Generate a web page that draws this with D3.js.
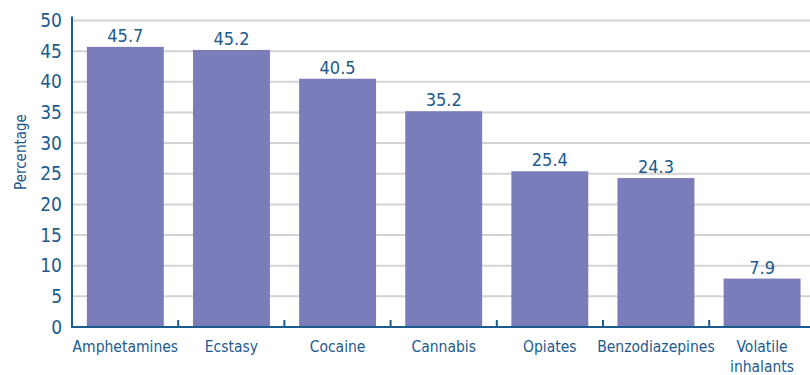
<!DOCTYPE html>
<html>
<head>
<meta charset="utf-8">
<script src="https://cdn.jsdelivr.net/npm/d3@7"></script>
<style>
body { margin: 0; background: #fff; }
text { font-family: "Liberation Sans Narrow", "DejaVu Sans Condensed", "Roboto Condensed", sans-serif; fill: #1d5a8e; }
</style>
</head>
<body>
<svg id="chart" width="810" height="375"></svg>
<script>
let categories = ['Amphetamines', 'Ecstasy', 'Cocaine', 'Cannabis', 'Opiates', 'Benzodiazepines', 'Volatile inhalants']
let values = [45.7, 45.2, 40.5, 35.2, 25.4, 24.3, 7.9]
let yTicks = [0, 5, 10, 15, 20, 25, 30, 35, 40, 45, 50]

let svg = d3.select('#chart')

let left = 72
let bandStep = 106.2
let x = d3.scaleBand()
	.domain(categories)
	.range([left, left + bandStep * categories.length])
	.paddingInner(0.275)
	.paddingOuter(0.14)

let y = d3.scaleLinear()
	.domain([0, 50])
	.range([327, 20.5])

// gridlines
svg.append('g')
	.selectAll('line')
	.data(yTicks.filter(t => t > 0))
	.enter()
	.append('line')
	.attr('x1', left)
	.attr('x2', 810)
	.attr('y1', d => y(d))
	.attr('y2', d => y(d))
	.attr('stroke', '#d3d3d3')
	.attr('stroke-width', 2)

// bars
svg.append('g')
	.selectAll('rect')
	.data(values)
	.enter()
	.append('rect')
	.attr('x', (d, i) => x(categories[i]))
	.attr('width', x.bandwidth())
	.attr('y', d => y(d))
	.attr('height', d => y(0) - y(d))
	.attr('fill', '#7b7dba')

// value labels
svg.append('g')
	.selectAll('text')
	.data(values)
	.enter()
	.append('text')
	.attr('x', (d, i) => x(categories[i]) + x.bandwidth() / 2)
	.attr('y', d => y(d) - 5)
	.attr('text-anchor', 'middle')
	.attr('font-size', 18)
	.text(d => d.toFixed(1))

// y axis
let yAxis = svg.append('g')
yAxis.append('line')
	.attr('x1', left).attr('x2', left)
	.attr('y1', y(50) - 4).attr('y2', y(0) + 1)
	.attr('stroke', '#1d5a8e')
	.attr('stroke-width', 2)

yAxis.selectAll('text')
	.data(yTicks)
	.enter()
	.append('text')
	.attr('x', 62)
	.attr('y', d => y(d))
	.attr('dy', '0.35em')
	.attr('text-anchor', 'end')
	.attr('font-size', 19)
	.text(d => d)

svg.append('text')
	.attr('transform', 'translate(26, 152) rotate(-90)')
	.attr('text-anchor', 'middle')
	.attr('font-size', 15)
	.text('Percentage')

// x axis
let xAxis = svg.append('g')
xAxis.append('line')
	.attr('x1', left - 1).attr('x2', 810)
	.attr('y1', y(0)).attr('y2', y(0))
	.attr('stroke', '#1d5a8e')
	.attr('stroke-width', 2)

let tickXs = categories.map((c, i) => left + bandStep * i)
xAxis.selectAll('.tick')
	.data(tickXs)
	.enter()
	.append('line')
	.attr('class', 'tick')
	.attr('x1', d => d).attr('x2', d => d)
	.attr('y1', y(0) - 7).attr('y2', y(0))
	.attr('stroke', '#1d5a8e')
	.attr('stroke-width', 2)

xAxis.selectAll('.lab')
	.data(categories)
	.enter()
	.append('text')
	.attr('class', 'lab')
	.attr('text-anchor', 'middle')
	.attr('font-size', 15.5)
	.attr('x', d => x(d) + x.bandwidth() / 2)
	.attr('y', 352)
	.each(function(d) {
		let words = d === 'Volatile inhalants' ? d.split(' ') : [d]
		let t = d3.select(this)
		words.forEach((w, i) => {
			t.append('tspan')
				.attr('x', x(d) + x.bandwidth() / 2)
				.attr('dy', i === 0 ? 0 : '1.3em')
				.text(w)
		})
	})
</script>
</body>
</html>
